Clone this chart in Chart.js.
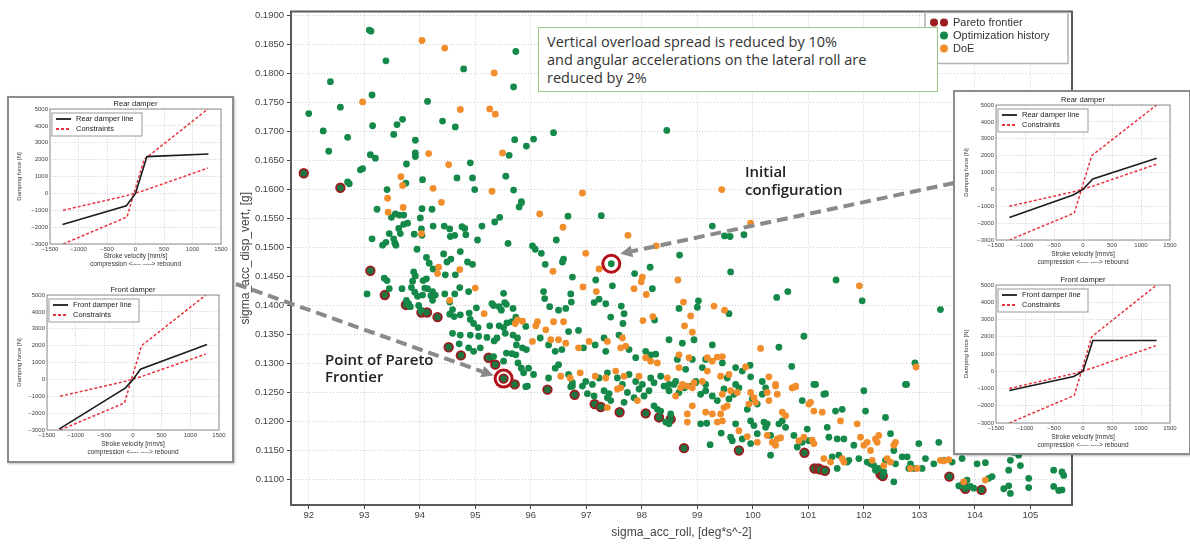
<!DOCTYPE html>
<html>
<head>
<meta charset="utf-8">
<script src="https://cdn.jsdelivr.net/npm/chart.js@4.4.1/dist/chart.umd.min.js"></script>
<style>
html, body { margin: 0; padding: 0; background: #fff; }
#page { position: relative; width: 1190px; height: 547px; overflow: hidden; }
canvas { position: absolute; }
.panel { position: absolute; background: #fff; border: 2px solid #8c8c8c; box-sizing: border-box; box-shadow: 1px 1px 2px rgba(0,0,0,0.25); }
#note { position: absolute; left: 538px; top: 27px; width: 400px; height: 65px; box-sizing: border-box;
  border: 1.5px solid #9cc986; background: #fff; padding: 5px 0 0 8px;
  font-family: "Open Sans", sans-serif; font-size: 14.5px; line-height: 18px; color: #333; white-space: nowrap; }
.lbl { position: absolute; font-family: "Open Sans", sans-serif; font-weight: 600; font-size: 15px; line-height: 18px; color: #222; white-space: nowrap; }
</style>
</head>
<body>
<div id="page">
  <canvas id="main" width="1190" height="547" style="left:0;top:0;width:1190px;height:547px"></canvas>
  <div class="panel" style="left:7px;top:96px;width:227px;height:367px"></div>
  <div class="panel" style="left:953px;top:90px;width:238px;height:365px"></div>
  <canvas id="rearLeft"></canvas>
  <canvas id="frontLeft"></canvas>
  <canvas id="rearRight"></canvas>
  <canvas id="frontRight"></canvas>
  <div id="note">Vertical overload spread is reduced by 10%<br>and angular accelerations on the lateral roll are<br>reduced by 2%</div>
  <div class="lbl" style="left:745px;top:162px">Initial<br>configuration</div>
  <div class="lbl" style="left:325px;top:351px;line-height:17px">Point of Pareto<br>Frontier</div>
</div>
<script>
// ---- main scatter data: [sigma_acc_roll, sigma_acc_disp_vert] ----
const historyPoints = [
  [93.09,.1875],[93.12,.1873],[93.39,.1822],[92.39,.1786],[92.00,.1731],[92.57,.1742],[93.14,.1763],[92.26,.1701],[93.15,.1710],[92.70,.1690],
  [92.36,.1666],[93.11,.1660],[93.20,.1654],[92.93,.1634],[92.97,.1636],[92.70,.1613],[92.73,.1610],[93.41,.1600],[93.59,.1712],[93.69,.1721],
  [93.53,.1695],[93.92,.1685],[93.92,.1663],[93.92,.1657],[93.76,.1644],[93.75,.1611],[94.05,.1617],[94.14,.1752],[94.41,.1718],[94.64,.1708],
  [94.79,.1808],[94.91,.1646],[94.67,.1620],[94.95,.1620],[94.99,.1600],[95.73,.1838],[95.69,.1777],[95.71,.1686],[96.05,.1687],[95.92,.1675],
  [95.61,.1659],[95.55,.1623],[95.69,.1599],[95.83,.1579],
  [93.23,.1566],[95.79,.1570],[95.83,.1577],[93.49,.1552],[93.56,.1558],[93.63,.1556],[93.71,.1556],[94.04,.1567],[94.01,.1551],[94.22,.1566],
  [93.14,.1515],[93.33,.1504],[93.39,.1509],[93.45,.1524],[93.53,.1515],[93.55,.1508],[93.57,.1504],[93.62,.1533],[93.71,.1540],[93.78,.1542],
  [93.65,.1524],[93.90,.1523],[94.03,.1532],[94.04,.1521],[94.24,.1537],[94.44,.1537],[94.54,.1532],[94.63,.1521],[94.55,.1519],[94.76,.1536],
  [94.81,.1533],[94.83,.1522],[95.04,.1513],[95.12,.1537],[95.35,.1544],[95.44,.1552],[95.59,.1507],[96.03,.1503],[96.08,.1497],[93.95,.1497],
  [94.12,.1483],[94.17,.1473],[94.43,.1489],[94.49,.1475],[94.56,.1480],[94.73,.1493],[94.86,.1475],[94.95,.1471],[94.64,.1453],[94.46,.1453],
  [94.24,.1463],[93.89,.1458],[93.92,.1451],[93.87,.1442],[93.85,.1431],[93.36,.1447],[93.41,.1443],[93.68,.1429],[94.12,.1446],[94.06,.1443],
  [94.09,.1430],[94.14,.1429],[93.05,.1420],[93.45,.1429],[93.91,.1423],[93.96,.1416],[94.05,.1418],[94.20,.1417],[94.23,.1424],[94.28,.1418],
  [94.45,.1420],[94.54,.1406],[94.63,.1420],[94.72,.1431],[94.88,.1424],[93.76,.1409],[93.80,.1403],[93.83,.1398],[93.98,.1400],[94.02,.1392],
  [94.23,.1409],[94.54,.1385],[94.62,.1381],[94.59,.1393],[94.73,.1384],[94.89,.1387],[94.91,.1376],[94.97,.1369],[95.02,.1396],[94.59,.1352],
  [94.73,.1349],[94.91,.1349],[95.05,.1362],[95.06,.1347],[95.09,.1327],[95.21,.1345],[95.26,.1365],[94.71,.1334],[94.88,.1327],[94.97,.1321],
  [95.30,.1403],[95.33,.1400],[95.43,.1398],[95.47,.1392],[95.51,.1421],[95.53,.1405],[95.56,.1402],[95.68,.1395],[95.73,.1380],[95.66,.1372],
  [95.57,.1370],[95.43,.1365],[95.51,.1362],[95.54,.1352],[95.34,.1339],[95.39,.1344],[95.91,.1364],[95.68,.1349],[95.76,.1344],[95.74,.1332],
  [95.85,.1327],[95.92,.1324],[95.56,.1318],[95.66,.1317],[95.73,.1315],[95.77,.1301],[95.33,.1312],[95.51,.1304],[95.83,.1292],[95.87,.1284],
  [95.96,.1292],[96.05,.1281],[95.94,.1261],
  [95.91,.1260],[96.72,.1260],[96.75,.1267],[96.93,.1261],[97.02,.1248],[97.14,.1244],[97.32,.1253],[97.38,.1241],[97.44,.1236],[97.41,.1248],
  [97.74,.1250],[97.86,.1241],[97.95,.1256],[98.04,.1244],[98.13,.1253],[98.22,.1227],[98.28,.1221],[97.68,.1233],
  [98.22,.1267],[98.40,.1261],[98.49,.1253],[98.58,.1264],[98.67,.1250],[98.77,.1258],[98.88,.1261],[98.97,.1267],[99.06,.1247],[99.15,.1253],
  [98.34,.1218],[98.43,.1199],[98.49,.1196],[98.52,.1213],[99.06,.1196],[99.17,.1197],[99.23,.1160],[99.43,.1180],
  [99.27,.1244],[99.36,.1236],[99.48,.1256],[99.57,.1239],[99.66,.1247],[99.75,.1258],[99.69,.1264],
  [99.60,.1173],[99.63,.1167],[99.81,.1170],[99.69,.1196],[99.96,.1201],[100.02,.1193],[99.96,.1162],[100.08,.1179],
  [99.99,.1239],[100.08,.1230],[99.90,.1221],[100.17,.1247],[100.23,.1258],
  [100.20,.1199],[100.26,.1196],[100.23,.1190],[100.32,.1176],[100.47,.1196],[100.53,.1201],[100.59,.1190],[100.32,.1142],
  [100.89,.1236],[100.74,.1176],[100.80,.1156],[100.89,.1164],[100.98,.1187],[101.01,.1167],[101.13,.1264],[101.28,.1247],[101.31,.1248],
  [101.34,.1190],[101.37,.1173],[101.43,.1139],[101.52,.1119],
  [101.49,.1218],[101.61,.1221],[101.64,.1170],[101.52,.1170],[101.70,.1130],[101.73,.1133],[101.55,.1142],
  [101.82,.1159],[101.91,.1136],[102.00,.1253],[102.03,.1218],[102.06,.1130],[102.12,.1127],[102.18,.1124],[102.21,.1116],[102.27,.1119],
  [102.36,.1113],[102.39,.1133],[102.48,.1179],[102.54,.1150],[102.57,.1127],
  [102.39,.1207],[102.54,.1096],[102.69,.1139],[102.78,.1139],[102.84,.1127],[102.81,.1119],[102.90,.1119],
  [102.99,.1162],[103.11,.1136],[103.05,.1119],[103.26,.1127],[103.35,.1164],[103.44,.1133],[103.59,.1130],[103.77,.1136],[104.04,.1127],
  [104.19,.1129],[104.25,.1102],[104.31,.1105],
  [103.86,.1099],[103.92,.1088],[103.98,.1085],[103.71,.1089],[103.80,.1088],[104.52,.1084],[104.61,.1089],[104.64,.1076],[104.61,.1116],
  [104.64,.1133],[104.70,.1147],[104.79,.1142],[104.82,.1124],[104.97,.1102],[104.97,.1086],[105.42,.1116],[105.57,.1113],[105.60,.1107],
  [105.42,.1088],[105.51,.1081],[105.57,.1082],[102.77,.1264],
  [96.41,.1698],[98.45,.1702],[96.67,.1554],[97.27,.1555],[96.46,.1513],[99.27,.1537],[99.49,.1520],[99.59,.1519],[99.84,.1522],[98.68,.1487],
  [96.19,.1490],[96.26,.1471],[96.57,.1475],[96.59,.1480],[97.45,.1472],[98.15,.1466],[97.87,.1455],[99.60,.1458],[96.75,.1449],[97.17,.1444],
  [97.47,.1434],[98.19,.1429],[96.23,.1424],[96.25,.1412],[96.72,.1420],[96.73,.1406],[97.23,.1411],[97.14,.1405],[97.35,.1403],[99.02,.1408],
  [99.00,.1397],[98.67,.1395],[99.57,.1386],[96.34,.1398],[96.50,.1392],[96.63,.1395],[97.63,.1399],[97.68,.1386],[97.66,.1369],[97.44,.1380],
  [98.23,.1375],
  [96.17,.1344],[96.32,.1332],[96.44,.1321],[96.56,.1324],[96.68,.1355],[96.86,.1357],[96.95,.1327],[97.16,.1332],[97.32,.1344],[97.35,.1321],
  [97.59,.1349],[97.77,.1324],[97.89,.1310],[98.07,.1321],[98.16,.1315],[98.25,.1316],[98.49,.1341],[98.73,.1335],[98.94,.1341],[99.27,.1332],
  [98.64,.1307],[98.79,.1290],[98.91,.1307],[99.09,.1293],[99.15,.1307],[99.45,.1301],[99.54,.1275],[99.69,.1293],[99.81,.1287],
  [96.32,.1275],[96.44,.1292],[96.50,.1298],[96.68,.1281],[96.75,.1261],[96.99,.1269],[97.11,.1264],[97.23,.1275],[97.38,.1284],[97.56,.1275],
  [97.65,.1264],[97.77,.1281],[97.89,.1269],[98.01,.1264],[98.16,.1275],[98.34,.1278],[98.49,.1264],[98.61,.1269],[98.79,.1261],[98.97,.1269],
  [99.15,.1264],
  [101.50,.1444],[101.97,.1408],[100.43,.1414],[100.63,.1424],[103.38,.1393],[100.92,.1347],[100.47,.1328],[100.70,.1295],[99.95,.1297],
  [99.96,.1277],[100.17,.1269],[101.10,.1264],[102.75,.1264],[102.92,.1301]
];
const doePoints = [
  [94.04,.1857],[94.45,.1844],[95.34,.1801],[92.97,.1751],[94.73,.1738],[95.26,.1739],[95.36,.1730],[94.16,.1662],[95.49,.1663],[94.52,.1643],
  [93.66,.1622],[93.69,.1607],[94.24,.1602],[95.30,.1597],[93.42,.1585],[94.39,.1578],
  [93.43,.1561],[93.70,.1569],[96.16,.1558],[94.03,.1524],[94.32,.1455],[94.34,.1466],[94.72,.1462],[95.00,.1430],[94.54,.1409],[95.16,.1386],
  [95.72,.1369],[95.76,.1375],[95.85,.1373],[96.09,.1365],[96.03,.1338],
  [97.56,.1256],[97.62,.1258],[97.38,.1224],[97.92,.1236],
  [98.70,.1258],[98.82,.1261],[98.94,.1267],[98.61,.1244],[98.82,.1213],[98.82,.1199],[98.91,.1227],
  [99.15,.1216],[99.27,.1213],[99.36,.1199],[99.45,.1201],[99.42,.1213],[99.48,.1224],[99.45,.1247],[99.60,.1253],[99.72,.1250],[99.54,.1227],
  [99.75,.1184],[99.90,.1174],[100.08,.1164],
  [99.96,.1250],[100.02,.1241],[100.05,.1233],[99.93,.1230],[100.26,.1250],[100.29,.1236],[100.41,.1261],[100.44,.1247],
  [100.26,.1176],[100.35,.1164],[100.44,.1170],[100.50,.1172],[100.41,.1159],[100.53,.1216],[100.59,.1210],[100.71,.1258],[100.77,.1260],
  [100.83,.1167],[100.92,.1173],[101.01,.1230],[101.04,.1233],[101.10,.1218],[101.25,.1216],[101.07,.1168],[101.10,.1162],
  [101.28,.1136],[101.40,.1130],[101.58,.1201],[101.61,.1136],[101.64,.1130],
  [101.88,.1196],[101.94,.1173],[102.00,.1159],[102.06,.1164],[102.12,.1150],
  [102.15,.1133],[102.21,.1170],[102.24,.1164],[102.27,.1176],[102.36,.1124],[102.42,.1136],[102.57,.1164],[102.54,.1159],
  [102.48,.1130],[102.84,.1119],[102.96,.1119],[103.38,.1133],[103.44,.1132],[103.53,.1134],[103.80,.1096],[104.19,.1099],
  [96.93,.1594],[99.44,.1600],[96.58,.1535],[97.75,.1521],[98.26,.1503],[96.99,.1490],[96.40,.1459],[97.23,.1463],[98.01,.1449],[97.99,.1441],
  [98.65,.1444],[96.94,.1432],[97.86,.1429],[97.18,.1424],[98.08,.1419],[98.75,.1406],[99.30,.1399],[99.49,.1392],[98.02,.1374],[98.20,.1381],
  [98.88,.1382],[98.77,.1365],[98.91,.1354],
  [96.12,.1372],[96.41,.1372],[96.59,.1372],[96.27,.1358],[96.36,.1341],[96.50,.1341],[96.63,.1335],[96.86,.1327],[97.05,.1338],[97.38,.1338],
  [97.65,.1344],[97.62,.1327],[97.71,.1330],
  [98.07,.1310],[98.16,.1304],[98.28,.1301],[98.67,.1315],[98.85,.1310],[99.18,.1310],[99.27,.1304],[99.36,.1311],[99.45,.1312],
  [99.57,.1281],[99.42,.1278],[99.18,.1287],[98.67,.1293],
  [96.54,.1278],[96.71,.1275],[96.89,.1284],[97.16,.1278],[97.35,.1275],[97.53,.1287],[97.68,.1278],[97.95,.1278],[98.46,.1275],[98.73,.1264],
  [98.91,.1258],[99.09,.1269],
  [99.96,.1542],[101.92,.1434],[100.14,.1326],[99.87,.1294],[100.29,.1277],[100.41,.1264],[102.94,.1294],[100.71,.1258],[100.77,.1261]
];
const paretoPoints = [
  [91.91,.1628],[92.57,.1603],[93.11,.1460],[93.37,.1418],[93.75,.1401],[94.03,.1388],[94.13,.1388],[94.32,.1380],[94.52,.1328],[94.74,.1314],
  [95.24,.1310],[95.36,.1298],[95.51,.1274],[95.71,.1264],[96.30,.1255],[96.79,.1246],[97.15,.1230],[97.26,.1225],[97.60,.1216],[98.07,.1214],
  [98.31,.1207],[98.52,.1204],[98.76,.1154],[99.75,.1150],[100.93,.1146],[101.11,.1119],[101.18,.1119],[101.22,.1117],[101.30,.1115],
  [102.30,.1109],[102.34,.1106],[103.54,.1105],[103.79,.1089],[103.83,.1084],[104.12,.1082]
];
// circled points: initial configuration, chosen Pareto point
const highlightPoints = [[97.45,.1472],[95.51,.1274]];

const xTicks = [92,93,94,95,96,97,98,99,100,101,102,103,104,105];
const yTicks = [0.110,0.115,0.120,0.125,0.130,0.135,0.140,0.145,0.150,0.155,0.160,0.165,0.170,0.175,0.180,0.185,0.190];
const legendRows = ['Pareto frontier','Optimization history','DoE'];

// ---- damper insets: stroke velocity [mm/s] vs damping force [N] ----
const velocityTicks = [-1500,-1000,-500,0,500,1000,1500];
const forceTicks = [-3000,-2000,-1000,0,1000,2000,3000,4000,5000];
const constraintUpperV = [-1270,-150,150,1270];
const constraintUpperF = [-3000,-1400,2000,5000];
const constraintLowerV = [-1270,-150,150,1270];
const constraintLowerF = [-1000,-130,170,1500];
const rearLeftV = [-1280,-160,0,200,1280];
const rearLeftF = [-1850,-730,0,2180,2330];
const frontLeftV = [-1290,-130,0,130,1290];
const frontLeftF = [-2950,-500,0,600,2060];
const rearRightV = [-1270,-170,0,170,1270];
const rearRightF = [-1670,-330,0,620,1850];
const frontRightV = [-1270,-160,0,170,1270];
const frontRightF = [-1120,-300,0,1780,1780];

const GREEN = '#14894a', ORANGE = '#f28d2c', PARETO = '#9c1c1f', RING = '#b4121b';
const SANS = '"Liberation Sans", Arial, sans-serif';

const toXY = pts => pts.map(p => ({x: p[0], y: p[1]}));
const pairs = (xs, ys) => xs.map((x, i) => ({x: x, y: ys[i]}));

function drawArrow(ctx, x0, y0, x1, y1) {
  const a = Math.atan2(y1 - y0, x1 - x0), head = 12, hw = 6;
  const bx = x1 - head * Math.cos(a), by = y1 - head * Math.sin(a);
  ctx.save();
  ctx.strokeStyle = '#8a8a8a';
  ctx.fillStyle = '#8a8a8a';
  ctx.lineWidth = 4;
  ctx.setLineDash([11, 6]);
  ctx.beginPath(); ctx.moveTo(x0, y0); ctx.lineTo(bx, by); ctx.stroke();
  ctx.setLineDash([]);
  ctx.beginPath();
  ctx.moveTo(x1, y1);
  ctx.lineTo(bx - hw * Math.sin(a), by + hw * Math.cos(a));
  ctx.lineTo(bx + hw * Math.sin(a), by - hw * Math.cos(a));
  ctx.closePath(); ctx.fill();
  ctx.restore();
}

const mainExtras = {
  id: 'mainExtras',
  afterDraw(chart) {
    const {ctx, chartArea: ca} = chart;
    ctx.save();
    // frame
    ctx.strokeStyle = '#5a5a5a'; ctx.lineWidth = 2;
    ctx.strokeRect(ca.left, ca.top, ca.right - ca.left, ca.bottom - ca.top);
    // legend
    const lx = ca.right - 147, ly = ca.top + 1, lw = 143, lh = 51;
    ctx.fillStyle = '#fff'; ctx.fillRect(lx, ly, lw, lh);
    ctx.strokeStyle = '#b0b0b0'; ctx.lineWidth = 1.5; ctx.strokeRect(lx, ly, lw, lh);
    ctx.font = '11px ' + SANS; ctx.textBaseline = 'middle'; ctx.fillStyle = '#333';
    legendRows.forEach((name, i) => {
      const ds = chart.data.datasets.find(d => d.label === name);
      const cy = ly + 10 + i * 13;
      ctx.fillStyle = ds.legendColor;
      [lx + 9, lx + 19].forEach(cx => { ctx.beginPath(); ctx.arc(cx, cy, 4, 0, Math.PI * 2); ctx.fill(); });
      ctx.fillStyle = '#333';
      ctx.fillText(name, lx + 28, cy);
    });
    // arrows towards the circled points
    const ring = chart.getDatasetMeta(3).data;
    const pInit = ring[0], pPar = ring[1];
    drawArrow(ctx, 236, 284, pPar.x - 10, pPar.y - 3);
    drawArrow(ctx, 954, 183, pInit.x + 9, pInit.y - 10);
    ctx.restore();
  }
};

new Chart(document.getElementById('main'), {
  type: 'scatter',
  data: {
    datasets: [
      {label: 'DoE', data: toXY(doePoints), backgroundColor: ORANGE, legendColor: ORANGE, borderWidth: 0, pointRadius: 3.4},
      {label: 'Optimization history', data: toXY(historyPoints), backgroundColor: GREEN, legendColor: GREEN, borderWidth: 0, pointRadius: 3.4},
      {label: 'Pareto frontier', data: toXY(paretoPoints), backgroundColor: '#1d7440', legendColor: PARETO, borderColor: PARETO, borderWidth: 1.8, pointRadius: 4.3},
      {label: 'highlight', data: toXY(highlightPoints), backgroundColor: 'rgba(0,0,0,0)', borderColor: RING, borderWidth: 3, pointRadius: 8.5}
    ]
  },
  options: {
    responsive: false,
    animation: false,
    events: [],
    layout: {padding: {left: 234, right: 118, top: 7, bottom: 3}},
    plugins: {legend: {display: false}, tooltip: {enabled: false}},
    scales: {
      x: {
        type: 'linear', min: 91.68, max: 105.75,
        afterBuildTicks: s => { s.ticks = xTicks.map(v => ({value: v})); },
        afterFit: s => { s.height = 39; },
        grid: {color: '#cdcdcd', lineWidth: 1, tickColor: '#444', tickLength: 4, tickBorderDash: []},
        border: {display: false, dash: [1, 2]},
        ticks: {font: {family: SANS, size: 9.5}, color: '#444', padding: 1, maxRotation: 0, autoSkip: false},
        title: {display: true, text: 'sigma_acc_roll, [deg*s^-2]', font: {family: SANS, size: 12}, color: '#444', padding: {top: 0, bottom: 4}}
      },
      y: {
        type: 'linear', min: 0.1056, max: 0.1907,
        afterBuildTicks: s => { s.ticks = yTicks.map(v => ({value: v})); },
        afterFit: s => { s.width = 57; },
        grid: {color: '#cdcdcd', lineWidth: 1, tickColor: '#444', tickLength: 4, tickBorderDash: []},
        border: {display: false, dash: [1, 2]},
        ticks: {font: {family: SANS, size: 9.5}, color: '#444', padding: 3, autoSkip: false, callback: v => v.toFixed(4)},
        title: {display: true, text: 'sigma_acc_disp_vert, [g]', font: {family: SANS, size: 12}, color: '#444', padding: {top: 4, bottom: 0}}
      }
    }
  },
  plugins: [mainExtras]
});

const insetExtras = {
  id: 'insetExtras',
  afterDraw(chart) {
    const {ctx, chartArea: ca} = chart;
    const o = chart.options.plugins.insetExtras;
    ctx.save();
    ctx.strokeStyle = '#8f8f8f'; ctx.lineWidth = 1;
    ctx.strokeRect(ca.left, ca.top, ca.right - ca.left, ca.bottom - ca.top);
    ctx.fillStyle = '#222'; ctx.font = '7.5px ' + SANS; ctx.textAlign = 'center'; ctx.textBaseline = 'middle';
    ctx.fillText(o.title, (ca.left + ca.right) / 2, ca.top - 5);
    // legend box in the upper left corner
    const lx = ca.left + 2, ly = ca.top + 4, lw = 90, lh = 23;
    ctx.fillStyle = '#fff'; ctx.fillRect(lx, ly, lw, lh);
    ctx.strokeStyle = '#9a9a9a'; ctx.strokeRect(lx, ly, lw, lh);
    ctx.textAlign = 'left'; ctx.font = '7.5px ' + SANS;
    chart.data.datasets.slice(0, 2).forEach((ds, i) => {
      const cy = ly + 6 + i * 10;
      ctx.strokeStyle = ds.borderColor; ctx.lineWidth = 1.8;
      ctx.setLineDash(ds.borderDash || []);
      ctx.beginPath(); ctx.moveTo(lx + 4, cy); ctx.lineTo(lx + 19, cy); ctx.stroke();
      ctx.setLineDash([]);
      ctx.fillStyle = '#222';
      ctx.fillText(ds.label, lx + 24, cy);
    });
    ctx.restore();
  }
};

function makeInset(id, box, plot, xl2, title, lineLabel, v, f) {
  const cv = document.getElementById(id);
  const [cx, cy, cw, ch] = box;
  const [pl, pr, pt, pb] = plot;
  cv.width = cw; cv.height = ch;
  cv.style.left = cx + 'px'; cv.style.top = cy + 'px';
  cv.style.width = cw + 'px'; cv.style.height = ch + 'px';
  const xtFont = {family: SANS, size: 6.5, lineHeight: 1.15};
  const lineGap = 6.5 * 1.15;
  new Chart(cv, {
    type: 'scatter',
    data: {
      datasets: [
        {label: lineLabel, data: pairs(v, f), showLine: true, borderColor: '#1c1c1c', borderWidth: 1.6, pointRadius: 0},
        {label: 'Constraints', data: pairs(constraintUpperV, constraintUpperF), showLine: true, borderColor: '#e8343e', borderWidth: 1.5, borderDash: [3, 2], pointRadius: 0},
        {label: 'Constraints', data: pairs(constraintLowerV, constraintLowerF), showLine: true, borderColor: '#e8343e', borderWidth: 1.5, borderDash: [3, 2], pointRadius: 0}
      ]
    },
    options: {
      responsive: false,
      animation: false,
      events: [],
      layout: {padding: {left: 8, right: cx + cw - pr, top: pt - cy, bottom: 0}},
      plugins: {legend: {display: false}, tooltip: {enabled: false}, insetExtras: {title: title}},
      scales: {
        x: {
          type: 'linear', min: -1500, max: 1500,
          afterBuildTicks: s => { s.ticks = velocityTicks.map(t => ({value: t})); },
          afterFit: s => { s.height = cy + ch - pb; },
          grid: {color: '#d2d2d2', drawTicks: false},
          border: {display: false, dash: [1, 1.5]},
          ticks: {font: {family: SANS, size: 6}, color: '#444', padding: 2, maxRotation: 0, autoSkip: false,
                  callback: t => String(t).replace('-', '\u2212')},
          title: {display: true, text: ['Stroke velocity [mm/s]', 'compression <---- ----> rebound'], font: xtFont, color: '#333',
                  padding: {top: 0, bottom: cy + ch - xl2 - lineGap / 2}}
        },
        y: {
          type: 'linear', min: -3000, max: 5000,
          afterBuildTicks: s => { s.ticks = forceTicks.map(t => ({value: t})); },
          afterFit: s => { s.width = pl - cx - 8; },
          grid: {color: '#d2d2d2', drawTicks: false},
          border: {display: false, dash: [1, 1.5]},
          ticks: {font: {family: SANS, size: 6}, color: '#444', padding: 2, autoSkip: false,
                  callback: t => String(t).replace('-', '\u2212')},
          title: {display: true, text: 'Damping force [N]', font: {family: SANS, size: 6}, color: '#333', padding: {top: 0, bottom: 0}}
        }
      }
    },
    plugins: [insetExtras]
  });
}

makeInset('rearLeft',   [8, 97, 225, 180],   [50, 221, 109, 244],   264, 'Rear damper',  'Rear damper line',  rearLeftV,  rearLeftF);
makeInset('frontLeft',  [8, 282, 225, 180],  [47, 219, 295, 430],   452, 'Front damper', 'Front damper line', frontLeftV, frontLeftF);
makeInset('rearRight',  [955, 92, 233, 180], [996, 1170, 105, 240], 262, 'Rear damper',  'Rear damper line',  rearRightV, rearRightF);
makeInset('frontRight', [955, 272, 233, 181],[996, 1170, 285, 423], 445, 'Front damper', 'Front damper line', frontRightV, frontRightF);
</script>
</body>
</html>
